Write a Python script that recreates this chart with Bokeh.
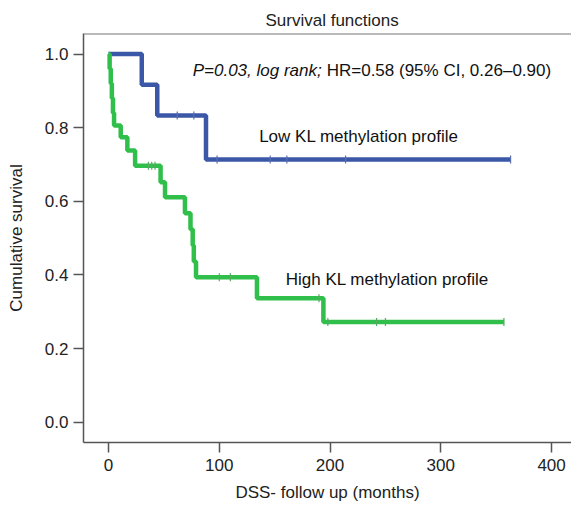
import numpy as np
from bokeh.plotting import figure
from bokeh.models import Label, Span, FixedTicker, NumeralTickFormatter, Range1d
from bokeh.embed import file_html
from bokeh.resources import INLINE

# --- data ---
low_time = [0, 30, 44, 88, 363]
low_surv = [1.0, 0.917, 0.833, 0.714, 0.714]
low_censor = [62, 77, 98, 146, 161, 214, 363]

high_time = [0, 1, 2, 3, 4, 5, 11, 17, 24, 47, 51, 69, 74, 76, 77, 79, 134, 194, 357]
high_surv = [1.0, 0.96, 0.92, 0.88, 0.84, 0.806, 0.774, 0.738, 0.697, 0.652, 0.611,
             0.568, 0.524, 0.48, 0.437, 0.394, 0.337, 0.272, 0.272]
high_censor = [36, 39, 42, 100, 110, 190, 198, 242, 250, 357]

x_ticks = [0, 100, 200, 300, 400]
y_ticks = [0.0, 0.2, 0.4, 0.6, 0.8, 1.0]

title_text = "Survival functions"
annot_italic = "P=0.03, log rank;"
annot_normal = "HR=0.58 (95% CI, 0.26\u20130.90)"
low_label = "Low KL methylation profile"
high_label = "High KL methylation profile"

FONT = "Liberation Sans"
BLUE = "#3b57a8"
GREEN = "#2fbf4a"

def surv_at(times, survs, t):
    idx = np.searchsorted(np.array(times), np.array(t), side="right") - 1
    return list(np.array(survs)[idx])

p = figure(width=571, height=510, output_backend="svg", toolbar_location=None,
           x_range=Range1d(-22.6, 418), y_range=Range1d(-0.055, 1.056),
           min_border_left=83, min_border_right=0, min_border_top=33, min_border_bottom=68)
p.outline_line_color = None
p.grid.visible = False
p.background_fill_color = "white"

p.title.text = title_text
p.title.align = "left"
p.title.offset = 182
p.title.standoff = 8
p.title.text_font = FONT
p.title.text_font_size = "17px"
p.title.text_font_style = "normal"
p.title.text_color = "#222222"

for ax in (p.xaxis[0], p.yaxis[0]):
    ax.axis_line_color = "#555555"
    ax.axis_line_width = 1.5
    ax.major_tick_line_color = "#555555"
    ax.major_tick_line_width = 1.5
    ax.major_tick_out = 10
    ax.major_tick_in = 0
    ax.minor_tick_line_color = None
    ax.major_label_text_font = FONT
    ax.major_label_text_font_size = "17px"
    ax.major_label_text_color = "#222222"
    ax.axis_label_text_font = FONT
    ax.axis_label_text_font_size = "17px"
    ax.axis_label_text_font_style = "normal"
    ax.axis_label_text_color = "#222222"

p.xaxis.ticker = FixedTicker(ticks=x_ticks)
p.yaxis.ticker = FixedTicker(ticks=y_ticks)
p.yaxis.formatter = NumeralTickFormatter(format="0.0")
p.xaxis.major_label_standoff = 6
p.yaxis.major_label_standoff = 5
p.xaxis.axis_label = "DSS- follow up (months)"
p.yaxis.axis_label = "Cumulative survival"
p.xaxis.axis_label_standoff = 9
p.yaxis.axis_label_standoff = 16

p.add_layout(Span(location=1.056, dimension="width", line_color="#777777", line_width=2))

p.step(low_time, low_surv, mode="after", line_color=BLUE, line_width=4.5)
p.step(high_time, high_surv, mode="after", line_color=GREEN, line_width=4.5)

p.scatter(low_censor, surv_at(low_time, low_surv, low_censor), marker="dash", angle=np.pi / 2,
          size=8, line_color="#5a6fb0", line_width=1.2)
p.scatter(high_censor, surv_at(high_time, high_surv, high_censor), marker="dash", angle=np.pi / 2,
          size=8, line_color="#5aa865", line_width=1.2)

p.add_layout(Label(x=76, y=0.955, text=annot_italic, text_font=FONT, text_font_size="17px",
                   text_font_style="italic", text_baseline="middle", text_color="#111111"))
p.add_layout(Label(x=76, y=0.955, x_offset=134, text=annot_normal, text_font=FONT,
                   text_font_size="17px", text_baseline="middle", text_color="#111111"))
p.add_layout(Label(x=136, y=0.775, text=low_label, text_font=FONT, text_font_size="17px",
                   text_baseline="middle", text_color="#111111"))
p.add_layout(Label(x=160, y=0.388, text=high_label, text_font=FONT, text_font_size="17px",
                   text_baseline="middle", text_color="#111111"))

open("out.html", "w").write(file_html(p, INLINE))
